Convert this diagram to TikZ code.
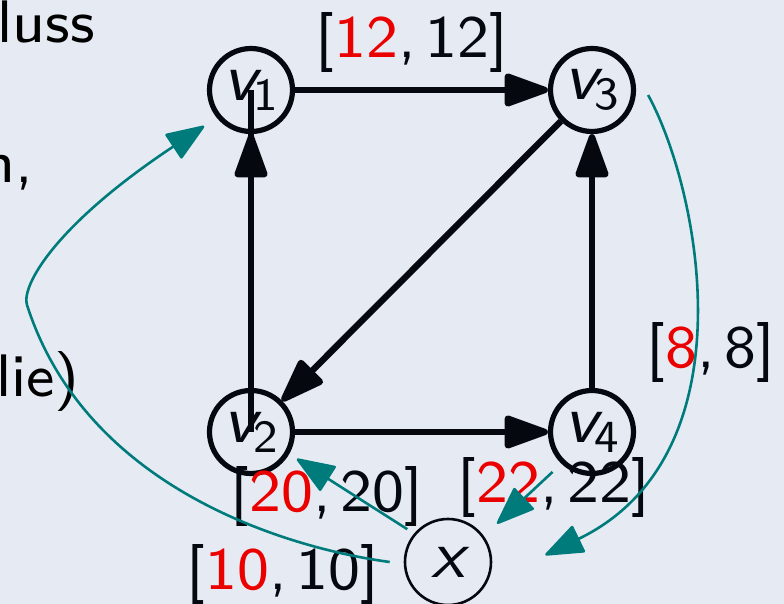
\documentclass[tikz,border=0pt]{standalone}
\usepackage{fontspec}
\setsansfont{lmsans8-regular.otf}[ItalicFont=lmsans8-oblique.otf]
\usetikzlibrary{arrows.meta}
\definecolor{bg}{RGB}{230,235,243}
\definecolor{ink}{RGB}{5,8,15}
\definecolor{tl}{RGB}{0,123,123}
\definecolor{rd}{RGB}{235,0,0}
\newcommand\vsub[1]{{\itshape v}\kern-1.5pt\raisebox{-5pt}{\fontsize{23}{23}\selectfont #1}}
\newcommand\lab[2]{[\textcolor{rd}{#1},\,#2]}
\begin{document}
\begin{tikzpicture}[x=0.5pt,y=-0.5pt,font=\sffamily,
 vert/.style={circle,draw=ink,line width=2.6pt,minimum size=41.5pt,inner sep=0pt,text=ink,font=\sffamily\fontsize{34}{40}\selectfont},
 xnode/.style={circle,draw=ink,line width=1.3pt,minimum size=43pt,inner sep=0pt,text=ink,font=\sffamily\fontsize{34}{40}\selectfont},
 edge/.style={draw=ink,line width=3.2pt,-{Triangle[length=25pt,width=17pt,round]}},
 tedge/.style={draw=tl,line width=1.3pt,-{Triangle[length=20pt,width=15pt,round]}},
 lbl/.style={anchor=base,inner sep=0pt,text=ink,font=\sffamily\fontsize{30}{36}\selectfont},
 txt/.style={anchor=base east,inner sep=0pt,text=black,font=\sffamily\fontsize{30}{36}\selectfont}]
\fill[bg] (0,0) rectangle (784,604);
\useasboundingbox (0,0) rectangle (784,604);
\clip (0,0) rectangle (784,604);
% cut-off slide text
\node[txt] (t1) at (95,43) {luss};
\node[txt] (t2) at (34,183) {n,};
\node[txt] (t3) at (80,397) {lie)};
% vertices
\node[vert] (v1) at (251,90) {\vsub{1}};
\node[vert] (v3) at (592,90) {\vsub{3}};
\node[vert] (v2) at (251,432) {\vsub{2}};
\node[vert] (v4) at (592,432) {\vsub{4}};
\node[xnode] (x) at (448,562) {\itshape x};
% black edges
\draw[edge] (v1) -- (v3);
\draw[draw=ink,line width=3.2pt] (v2.center) -- (v1.center);
\draw[edge] (v2) -- (v1);
\draw[edge] (v3) -- (v2);
\draw[edge] (v2) -- (v4);
\draw[edge] (v4) -- (v3);
% labels
\node[lbl] (l13) at (412,58) {\lab{12}{12}};
\node[lbl] (l43) at (711,368) {\lab{8}{8}};
\node[lbl] (l2) at (327,512) {\lab{20}{20}};
\node[lbl] (l4) at (554,503) {\lab{22}{22}};
\node[lbl] (lx) at (283,590) {\lab{10}{10}};
% teal edges
\draw[tedge,shorten <=4pt,shorten >=4.5pt] (x.140) -- (v2.-30);
\draw[tedge,shorten <=6pt,shorten >=9pt] (v4.-134) -- (x.36);
\draw[tedge] ([shift={(6pt,-2.5pt)}]v3.east) .. controls (700,190) and (752,455) .. ([shift={(26.5pt,3.5pt)}]x.east);
\draw[tedge,shorten >=7.5pt] ([xshift=-7pt]x.west) .. controls (300,550) and (88,495) .. (27,305)
  .. controls (21,286) and (55,225) .. (v1.219);
\end{tikzpicture}
\end{document}
